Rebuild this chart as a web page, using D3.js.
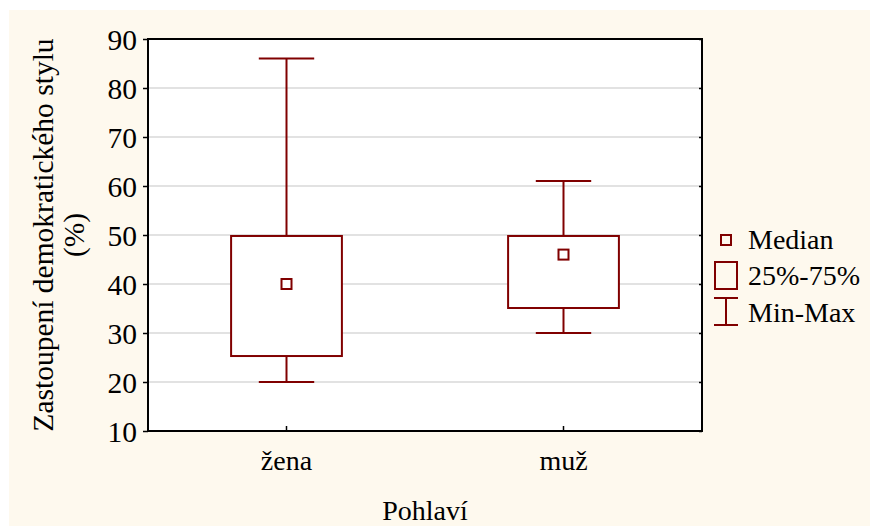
<!DOCTYPE html>
<html>
<head>
<meta charset="utf-8">
<script src="https://cdn.jsdelivr.net/npm/d3@7"></script>
<style>
  body { margin: 0; background: #fff; }
  text { font-family: "Liberation Serif", "Times New Roman", serif; fill: #000; }
</style>
</head>
<body>
<svg width="870" height="526"></svg>
<script>
const categories = ["žena", "muž"];
const mins = [20, 30];
const q1s = [25.3, 35.1];
const medians = [40, 46];
const q3s = [49.8, 49.8];
const maxs = [86, 61];
const yTicks = [10, 20, 30, 40, 50, 60, 70, 80, 90];
const legendLabels = ["Median", "25%-75%", "Min-Max"];

const red = "#800000";
const fontSize = "28px";
const svg = d3.select("svg");
const margin = { top: 39, right: 168, bottom: 95, left: 148 };
const width = +svg.attr("width") - margin.left - margin.right;
const height = +svg.attr("height") - margin.top - margin.bottom;

svg.append("rect")
  .attr("x", 9).attr("y", 10)
  .attr("width", 861).attr("height", 516)
  .attr("fill", "#fef9ee");

const g = svg.append("g")
  .attr("transform", "translate(" + margin.left + "," + margin.top + ")");

const x = d3.scaleBand().domain(categories).range([0, width]).padding(0);
const y = d3.scaleLinear().domain([10, 90]).range([height, 0]);

g.append("rect")
  .attr("width", width).attr("height", height)
  .attr("fill", "#fff");

// mřížka
g.selectAll(".grid")
  .data(yTicks.slice(1, -1))
  .join("line")
  .attr("class", "grid")
  .attr("x1", 0).attr("x2", width)
  .attr("y1", d => y(d)).attr("y2", d => y(d))
  .attr("stroke", "#d8d8d8").attr("stroke-width", 1.5);

// osa y
const yAxis = g.append("g")
  .call(d3.axisLeft(y).tickValues(yTicks).tickSize(5).tickPadding(6));
yAxis.select(".domain").remove();
yAxis.selectAll("line").attr("stroke", "#000").attr("stroke-width", 1.5);
yAxis.selectAll("text")
  .style("font-size", "29.5px")
  .style("font-family", "Liberation Serif, serif")
  .attr("dy", "0.34em");

// vnitřní značky vpravo
g.append("g")
  .attr("transform", "translate(" + width + ",0)")
  .call(d3.axisLeft(y).tickValues(yTicks).tickSize(3).tickFormat(""))
  .call(a => a.select(".domain").remove())
  .selectAll("line").attr("stroke", "#000").attr("stroke-width", 1.5);

// osa x
const xAxis = g.append("g")
  .attr("transform", "translate(0," + height + ")")
  .call(d3.axisTop(x).tickSize(5).tickFormat(""));
xAxis.select(".domain").remove();
xAxis.selectAll("line").attr("stroke", "#000").attr("stroke-width", 1.5);

g.selectAll(".cat")
  .data(categories)
  .join("text")
  .attr("class", "cat")
  .attr("x", d => x(d) + x.bandwidth() / 2)
  .attr("y", height + 39)
  .attr("text-anchor", "middle")
  .style("font-size", fontSize)
  .text(d => d);

// krabice
const boxW = x.bandwidth() * 0.4;
const capW = boxW / 2;
const data = categories.map((c, i) => ({ c: c, min: mins[i], q1: q1s[i], med: medians[i], q3: q3s[i], max: maxs[i] }));

const box = g.selectAll(".box")
  .data(data)
  .join("g")
  .attr("class", "box")
  .attr("transform", d => "translate(" + (x(d.c) + x.bandwidth() / 2) + ",0)");

box.append("line")
  .attr("y1", d => y(d.max)).attr("y2", d => y(d.q3))
  .attr("stroke", red).attr("stroke-width", 2);
box.append("line")
  .attr("y1", d => y(d.q1)).attr("y2", d => y(d.min))
  .attr("stroke", red).attr("stroke-width", 2);
box.append("line")
  .attr("x1", -capW / 2).attr("x2", capW / 2)
  .attr("y1", d => y(d.max)).attr("y2", d => y(d.max))
  .attr("stroke", red).attr("stroke-width", 2);
box.append("line")
  .attr("x1", -capW / 2).attr("x2", capW / 2)
  .attr("y1", d => y(d.min)).attr("y2", d => y(d.min))
  .attr("stroke", red).attr("stroke-width", 2);
box.append("rect")
  .attr("x", -boxW / 2).attr("width", boxW)
  .attr("y", d => y(d.q3)).attr("height", d => y(d.q1) - y(d.q3))
  .attr("fill", "#fff").attr("stroke", red).attr("stroke-width", 2);
box.append("rect")
  .attr("x", -5).attr("width", 10)
  .attr("y", d => y(d.med) - 5).attr("height", 10)
  .attr("fill", "#fff").attr("stroke", red).attr("stroke-width", 2);

// rámeček
g.append("rect")
  .attr("width", width).attr("height", height)
  .attr("fill", "none").attr("stroke", "#000").attr("stroke-width", 2);

// popisky os
svg.append("text")
  .attr("x", margin.left + width / 2)
  .attr("y", 520)
  .attr("text-anchor", "middle")
  .style("font-size", fontSize)
  .text("Pohlaví");

const yTitle = svg.append("text")
  .attr("transform", "translate(53," + (margin.top + height / 2) + ") rotate(-90)")
  .attr("text-anchor", "middle")
  .style("font-size", "29.5px");
yTitle.append("tspan").attr("x", 0).attr("dy", 0).text("Zastoupení demokratického stylu");
yTitle.append("tspan").attr("x", 0).attr("dy", 31).text("(%)");

// legenda
const lg = svg.append("g").attr("transform", "translate(726,0)");
lg.append("rect")
  .attr("x", -5).attr("y", 235).attr("width", 10).attr("height", 10)
  .attr("fill", "none").attr("stroke", red).attr("stroke-width", 2);
lg.append("rect")
  .attr("x", -11).attr("y", 262).attr("width", 22).attr("height", 27)
  .attr("fill", "none").attr("stroke", red).attr("stroke-width", 2);
lg.append("line").attr("x1", -12).attr("x2", 12).attr("y1", 298).attr("y2", 298)
  .attr("stroke", red).attr("stroke-width", 2);
lg.append("line").attr("x1", -12).attr("x2", 12).attr("y1", 325).attr("y2", 325)
  .attr("stroke", red).attr("stroke-width", 2);
lg.append("line").attr("x1", 0).attr("x2", 0).attr("y1", 298).attr("y2", 325)
  .attr("stroke", red).attr("stroke-width", 2);

lg.selectAll(".lt")
  .data(legendLabels)
  .join("text")
  .attr("class", "lt")
  .attr("x", 22)
  .attr("y", (d, i) => [249, 285, 322][i])
  .style("font-size", fontSize)
  .text(d => d);
</script>
</body>
</html>
